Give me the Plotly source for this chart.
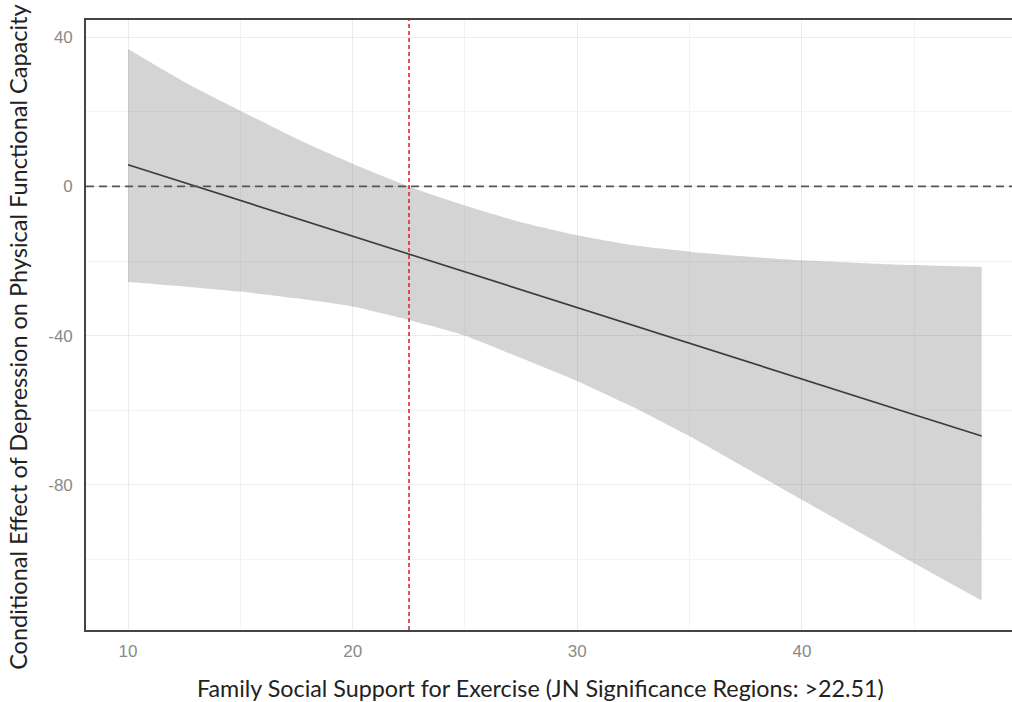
import plotly.graph_objects as go

# Values
x_vals = [10, 12.5, 15, 17.5, 20, 22.5, 25, 27.5, 30, 32.5, 35, 37.5, 40, 42.5, 45, 48]
upper = [36.8, 28.0, 20.3, 12.8, 6.1, 0.0, -5.1, -9.6, -13.1, -15.8, -17.5, -18.8, -19.8, -20.5, -21.1, -21.6]
lower = [-25.6, -26.8, -28.2, -30.0, -32.2, -35.8, -40.0, -46.0, -52.2, -59.2, -67.0, -75.5, -84.0, -92.5, -101.0, -111.0]
estimate = [5.8, 1.0, -3.8, -8.5, -13.3, -18.1, -22.9, -27.7, -32.5, -37.3, -42.1, -46.8, -51.6, -56.4, -61.2, -66.9]

jn_point = 22.51
x_ticks = [10, 20, 30, 40]
y_ticks = [40, 0, -40, -80]
x_title = "Family Social Support for Exercise (JN Significance Regions: >22.51)"
y_title = "Conditional Effect of Depression on Physical Functional Capacity"

fig = go.Figure()

fig.add_trace(go.Scatter(
    x=x_vals, y=lower, mode="lines",
    line=dict(width=0, shape="spline", smoothing=0.6),
    hoverinfo="skip", showlegend=False,
))
fig.add_trace(go.Scatter(
    x=x_vals, y=upper, mode="lines",
    line=dict(width=0, shape="spline", smoothing=0.6),
    fill="tonexty", fillcolor="rgba(120,120,120,0.32)",
    hoverinfo="skip", showlegend=False,
))

fig.add_trace(go.Scatter(
    x=x_vals, y=estimate, mode="lines",
    line=dict(color="#3a3a3a", width=1.6),
    showlegend=False,
))

# zero reference line
fig.add_hline(y=0, line=dict(color="#555555", width=1.6, dash="8px,5px"))
# JN significance boundary
fig.add_vline(x=jn_point, line=dict(color="#e8222b", width=1.6, dash="4px,3px"))

grid = "#ebebeb"
fig.update_xaxes(
    range=[8.13, 49.35],
    tickvals=x_ticks,
    ticktext=[str(v) for v in x_ticks],
    showgrid=True, gridcolor=grid, gridwidth=1.2,
    minor=dict(dtick=5, tick0=5, showgrid=True, gridcolor="#f3f3f3", gridwidth=0.8),
    zeroline=False,
    showline=True, linecolor="#444444", linewidth=1.6, mirror=True,
    ticks="", ticklabelstandoff=5,
    tickfont=dict(family="Liberation Sans, Arial", size=17, color="#8a8a8a"),
)
fig.update_yaxes(
    range=[-118.9, 44.6],
    tickvals=y_ticks,
    ticktext=[str(v) for v in y_ticks],
    showgrid=True, gridcolor=grid, gridwidth=1.2,
    minor=dict(dtick=20, tick0=20, showgrid=True, gridcolor="#f3f3f3", gridwidth=0.8),
    zeroline=False,
    showline=True, linecolor="#444444", linewidth=1.6, mirror=False,
    ticks="", ticklabelstandoff=8,
    tickfont=dict(family="Liberation Sans, Arial", size=17, color="#8a8a8a"),
)

fig.add_annotation(
    text=x_title, xref="paper", yref="paper", x=0.491, y=-0.095,
    xanchor="center", yanchor="middle", showarrow=False,
    font=dict(family="Lato, Open Sans", size=23.3, color="#222222"),
)
fig.add_annotation(
    text=y_title, xref="paper", yref="paper", x=-0.0734, y=0.479,
    xanchor="center", yanchor="middle", textangle=-90, showarrow=False,
    font=dict(family="Lato, Open Sans", size=23.5, color="#222222"),
)

fig.update_layout(
    width=1012, height=702,
    margin=dict(l=86, r=0, t=20, b=72),
    plot_bgcolor="white", paper_bgcolor="white",
    showlegend=False,
)

# remove the default page margin so the figure fills the window exactly
fig.write_html(
    "out.html",
    config={"displayModeBar": False},
    post_script="document.body.style.margin='0';document.body.style.overflow='hidden';",
)
